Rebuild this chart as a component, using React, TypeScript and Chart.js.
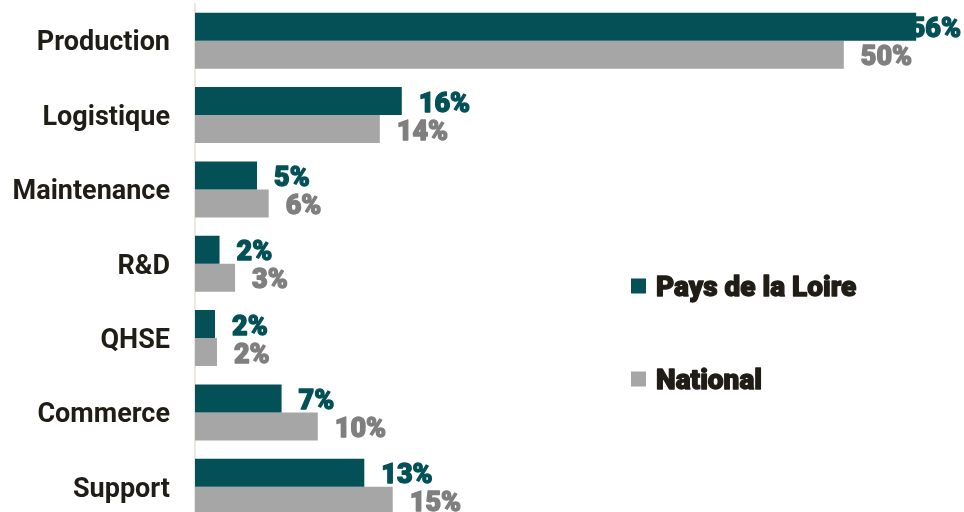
import React, { useEffect, useRef } from "react";
import { Chart, registerables } from "chart.js";

Chart.register(...registerables);

const categories = ["Production", "Logistique", "Maintenance", "R&D", "QHSE", "Commerce", "Support"];
const paysDeLaLoire = [55.8, 16.0, 4.8, 1.9, 1.55, 6.7, 13.1];
const national = [50.2, 14.3, 5.7, 3.1, 1.7, 9.5, 15.3];
const seriesNames = ["Pays de la Loire", "National"];

const TEAL = "#035157";
const GREY = "#A6A6A6";
const GREY_TEXT = "#7F7F7F";
const DARK = "#1F1D16";
const FONT = "Roboto, 'Liberation Sans', sans-serif";

function heavyText(ctx: CanvasRenderingContext2D, txt: string, x: number, y: number, color: string) {
  ctx.fillStyle = color;
  ctx.strokeStyle = color;
  ctx.lineWidth = 1.3;
  ctx.lineJoin = "round";
  ctx.fillText(txt, x, y);
  ctx.strokeText(txt, x, y);
}

const valueLabels = {
  id: "valueLabels",
  beforeDatasetsDraw(chart: any) {
    const ctx = chart.ctx;
    const area = chart.chartArea;
    ctx.save();
    ctx.font = `900 27px ${FONT}`;
    ctx.textAlign = "left";
    ctx.textBaseline = "alphabetic";
    chart.data.datasets.forEach((ds: any, di: number) => {
      const meta = chart.getDatasetMeta(di);
      const color = di === 0 ? TEAL : GREY_TEXT;
      meta.data.forEach((bar: any, i: number) => {
        const txt = Math.round(ds.data[i]) + "%";
        const w = ctx.measureText(txt).width;
        let x = bar.x + 17;
        if (x + w > area.right - 3) x = area.right - 3 - w;
        heavyText(ctx, txt, x, bar.y + 10.5, color);
      });
    });
    ctx.restore();
  },
};

const customLegend = {
  id: "customLegend",
  afterDraw(chart: any) {
    const ctx = chart.ctx;
    ctx.save();
    const items = [
      { text: seriesNames[0], color: TEAL, cy: 286 },
      { text: seriesNames[1], color: GREY, cy: 379 },
    ];
    ctx.font = `900 28px ${FONT}`;
    ctx.textAlign = "left";
    ctx.textBaseline = "alphabetic";
    items.forEach((it) => {
      ctx.fillStyle = it.color;
      ctx.fillRect(631, it.cy - 7.5, 15, 15);
      heavyText(ctx, it.text, 656, it.cy + 9.5, DARK);
    });
    ctx.restore();
  },
};

export default function App() {
  const ref = useRef<HTMLCanvasElement>(null);
  useEffect(() => {
    document.body.style.margin = "0";
    const chart = new Chart(ref.current!, {
      type: "bar",
      data: {
        labels: categories,
        datasets: [
          { label: seriesNames[0], data: paysDeLaLoire, backgroundColor: TEAL, categoryPercentage: 0.753, barPercentage: 1 },
          { label: seriesNames[1], data: national, backgroundColor: GREY, categoryPercentage: 0.753, barPercentage: 1 },
        ],
      },
      options: {
        indexAxis: "y",
        animation: false,
        responsive: false,
        layout: { padding: { top: 3.5, right: 0, bottom: 0, left: 0 } },
        plugins: { legend: { display: false }, tooltip: { enabled: false } },
        scales: {
          x: { display: false, min: 0, max: 59.5 },
          y: {
            grid: { display: false, drawTicks: false },
            border: { display: true, color: "#EDE8DF", width: 2 },
            ticks: { color: DARK, padding: 25, labelOffset: 3, font: { family: FONT, size: 27, weight: "bold" } },
            afterFit(scale: any) {
              scale.width = 195;
              scale.paddingTop = 0;
              scale.paddingBottom = 0;
            },
          },
        },
      },
      plugins: [valueLabels, customLegend],
    });
    return () => chart.destroy();
  }, []);
  return (
    <div style={{ position: "fixed", left: 0, top: 0, width: 964, height: 512, overflow: "hidden", background: "#fff" }}>
      <canvas ref={ref} width={964} height={524} style={{ display: "block" }} />
    </div>
  );
}
